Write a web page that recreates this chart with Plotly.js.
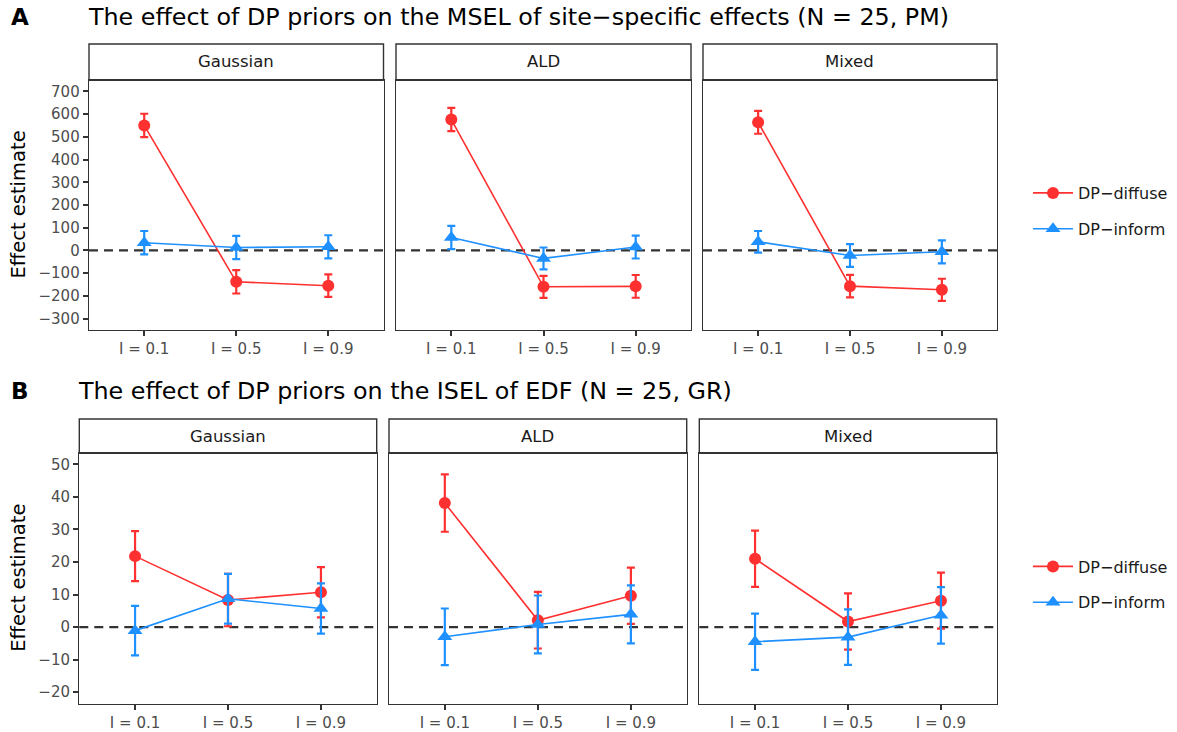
<!DOCTYPE html>
<html>
<head>
<meta charset="utf-8">
<script src="https://cdn.plot.ly/plotly-3.0.1.min.js"></script>
<style>
  html, body { margin: 0; padding: 0; background: #ffffff; }
  #chart { width: 1177px; height: 732px; }
</style>
</head>
<body>
<div id="chart"></div>
<script>
// Categories and facets
const levels = ['I = 0.1', 'I = 0.5', 'I = 0.9'];
const priors = ['Gaussian', 'ALD', 'Mixed'];
const seriesNames = ['DP\u2212diffuse', 'DP\u2212inform'];

// Panel A: MSEL of site-specific effects (estimate and half-width of interval), per prior
const mselDiffuse    = [[550, -138, -155], [576, -160, -158], [564, -157, -173]];
const mselDiffuseErr = [[51.5, 51.5, 49.5], [51, 48.5, 50], [50.5, 49.5, 48.5]];
const mselInform     = [[34, 13, 16], [57, -35, 15], [38, -22, -6]];
const mselInformErr  = [[51.5, 51, 51], [51, 48, 50.5], [47.5, 50, 50.5]];

// Panel B: ISEL of EDF
const iselDiffuse    = [[21.8, 8.3, 10.7], [38.1, 2.1, 9.6], [21.0, 1.7, 8.1]];
const iselDiffuseErr = [[7.7, 8.05, 7.75], [8.8, 8.7, 8.65], [8.65, 8.65, 8.6]];
const iselInform     = [[-1.1, 8.7, 5.7], [-3.0, 0.8, 3.9], [-4.5, -3.1, 3.6]];
const iselInformErr  = [[7.6, 7.65, 7.7], [8.7, 8.9, 8.9], [8.65, 8.55, 8.7]];

// Axis ticks
const mselTicks = [-300, -200, -100, 0, 100, 200, 300, 400, 500, 600, 700];
const iselTicks = [-20, -10, 0, 10, 20, 30, 40, 50];

const titleA = 'The effect of DP priors on the MSEL of site\u2212specific effects (N = 25, PM)';
const titleB = 'The effect of DP priors on the ISEL of EDF (N = 25, GR)';

// ---- styling ----
const W = 1177, H = 732;
const RED = '#FF3030', BLUE = '#1E90FF';
const FONT = 'DejaVu Sans, Liberation Sans, sans-serif';
const px = v => v / W;
const py = v => 1 - v / H;

// panel geometry in pixels: [left, right] for each facet, [top, bottom] of plotting area, strip top
const rows = [
  { cols: [[89, 383.5], [396, 691], [703, 997]], top: 80, bottom: 330, stripTop: 44,
    range: [-350, 750], ticks: mselTicks,
    diffuse: mselDiffuse, diffuseErr: mselDiffuseErr, inform: mselInform, informErr: mselInformErr,
    legend: 'legend' },
  { cols: [[79.3, 376.7], [389, 686.7], [699.3, 996.7]], top: 453, bottom: 703.5, stripTop: 419,
    range: [-23.5, 53.5], ticks: iselTicks,
    diffuse: iselDiffuse, diffuseErr: iselDiffuseErr, inform: iselInform, informErr: iselInformErr,
    legend: 'legend2' }
];

const traces = [];
const shapes = [];
const annotations = [];
const layout = {
  width: W, height: H,
  margin: { l: 0, r: 0, t: 0, b: 0 },
  paper_bgcolor: '#ffffff', plot_bgcolor: '#ffffff',
  font: { family: FONT, color: '#1a1a1a' },
  showlegend: true
};

let k = 0;
rows.forEach((row, r) => {
  row.cols.forEach((c, j) => {
    k += 1;
    const xn = k === 1 ? 'xaxis' : 'xaxis' + k;
    const yn = k === 1 ? 'yaxis' : 'yaxis' + k;
    const xr = k === 1 ? 'x' : 'x' + k;
    const yr = k === 1 ? 'y' : 'y' + k;

    layout[xn] = {
      domain: [px(c[0]), px(c[1])], anchor: yr,
      type: 'category', range: [-0.6, 2.6],
      showgrid: false, zeroline: false,
      showline: true, mirror: true, linecolor: '#333333', linewidth: 1.3,
      ticks: 'outside', ticklen: 5, tickwidth: 2, tickcolor: '#333333',
      tickfont: { family: FONT, size: 15, color: '#4d4d4d' },
      fixedrange: true
    };
    layout[yn] = {
      domain: [py(row.bottom), py(row.top)], anchor: xr,
      range: row.range, tickvals: row.ticks,
      showticklabels: j === 0,
      showgrid: false, zeroline: false,
      showline: true, mirror: true, linecolor: '#333333', linewidth: 1.3,
      ticks: j === 0 ? 'outside' : '', ticklen: 5, tickwidth: 2, tickcolor: '#333333',
      tickfont: { family: FONT, size: 15, color: '#4d4d4d' },
      fixedrange: true
    };

    // facet strip
    shapes.push({
      type: 'rect', xref: 'paper', yref: 'paper',
      x0: px(c[0]), x1: px(c[1]), y0: py(row.top), y1: py(row.stripTop),
      fillcolor: '#ffffff', line: { color: '#333333', width: 1.4 }
    });
    shapes.push({
      type: 'line', xref: 'paper', yref: 'paper',
      x0: px(c[0]), x1: px(c[1]), y0: py(row.top), y1: py(row.top),
      line: { color: '#333333', width: 2 }
    });
    annotations.push({
      xref: 'paper', yref: 'paper',
      x: px((c[0] + c[1]) / 2), y: py((row.top + row.stripTop) / 2),
      xanchor: 'center', yanchor: 'middle', showarrow: false,
      text: priors[j], font: { family: FONT, size: 16.5, color: '#1a1a1a' }
    });

    // reference line at zero
    shapes.push({
      type: 'line', xref: xr + ' domain', yref: yr,
      x0: 0, x1: 1, y0: 0, y1: 0, layer: 'below',
      line: { color: '#333333', width: 2.2, dash: '9px,6px' }
    });

    const common = (name, color, sym, size, vals, errs, group) => ({
      type: 'scatter', mode: 'lines+markers',
      x: levels, y: vals, xaxis: xr, yaxis: yr,
      name: name, legend: row.legend, legendgroup: group + r,
      showlegend: j === 0,
      line: { color: color, width: 1.6 },
      marker: { color: color, symbol: sym, size: size },
      error_y: { type: 'data', array: errs, visible: true, color: color, thickness: 2.2, width: 4 },
      cliponaxis: false, hoverinfo: 'x+y+name'
    });
    traces.push(common(seriesNames[0], RED, 'circle', 12, row.diffuse[j], row.diffuseErr[j], 'diffuse'));
    traces.push(common(seriesNames[1], BLUE, 'triangle-up', 13, row.inform[j], row.informErr[j], 'inform'));
  });

  // y-axis title
  annotations.push({
    xref: 'paper', yref: 'paper', x: px(18.5), y: py((row.top + row.bottom) / 2),
    xanchor: 'center', yanchor: 'middle', showarrow: false, textangle: -90,
    text: 'Effect estimate', font: { family: FONT, size: 19.5, color: '#000000' }
  });
});

// panel tags and titles
const tagY = [17, 391];
const titleX = [85.5, 76];
[['A', titleA], ['B', titleB]].forEach((t, i) => {
  annotations.push({
    xref: 'paper', yref: 'paper', x: px(19.5), y: py(tagY[i]),
    xanchor: 'center', yanchor: 'middle', showarrow: false,
    text: '<b>' + t[0] + '</b>', font: { family: FONT, size: 23, color: '#000000' }
  });
  annotations.push({
    xref: 'paper', yref: 'paper', x: px(titleX[i]), y: py(tagY[i]),
    xanchor: 'left', yanchor: 'middle', showarrow: false,
    text: t[1], font: { family: FONT, size: 23.8, color: '#000000' }
  });
});

const legendBase = {
  xanchor: 'left', yanchor: 'middle',
  bgcolor: 'rgba(0,0,0,0)', borderwidth: 0,
  font: { family: FONT, size: 16, color: '#1a1a1a' },
  traceorder: 'grouped', tracegroupgap: 12, itemwidth: 40
};
layout.legend = Object.assign({}, legendBase, { x: px(1028), y: py(211) });
layout.legend2 = Object.assign({}, legendBase, { x: px(1028), y: py(584.5) });

layout.shapes = shapes;
layout.annotations = annotations;

Plotly.newPlot('chart', traces, layout, { displayModeBar: false, staticPlot: true });
</script>
</body>
</html>
